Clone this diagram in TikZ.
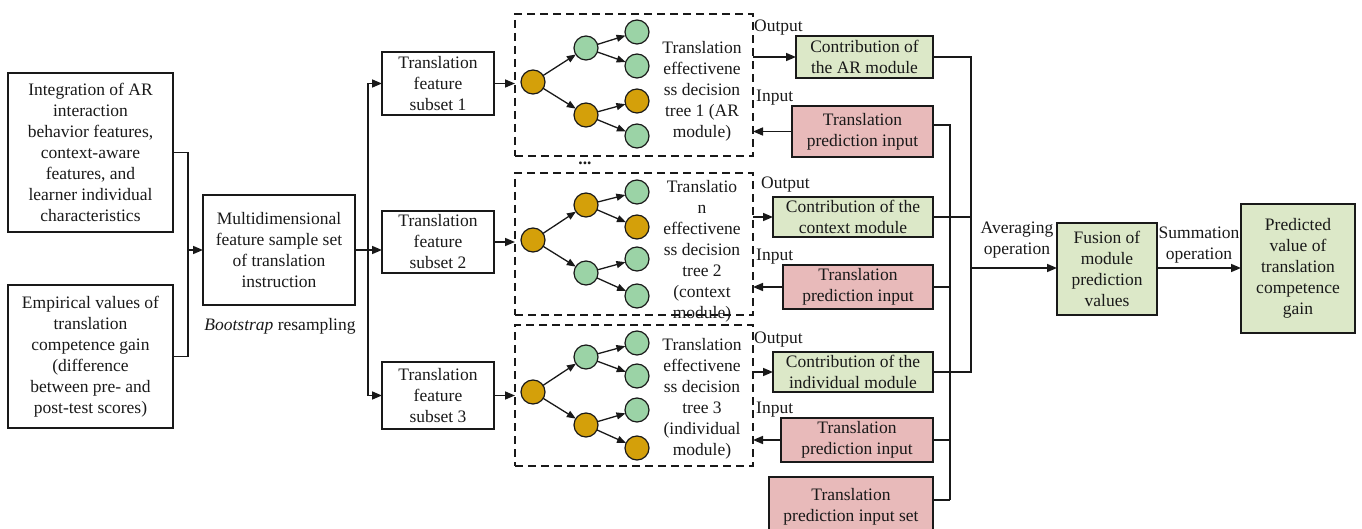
\documentclass[tikz,border=0pt]{standalone}
\usepackage{fontspec}
\setmainfont{Liberation Serif}
\usetikzlibrary{arrows.meta,calc}
\definecolor{gbox}{RGB}{220,232,200}
\definecolor{rbox}{RGB}{232,186,186}
\definecolor{cgreen}{RGB}{155,211,166}
\definecolor{corange}{RGB}{212,160,10}
\definecolor{ink}{RGB}{25,25,25}
\begin{document}
\begin{tikzpicture}[x=1pt,y=-1pt,
  every node/.style={font=\fontsize{17.5}{21}\selectfont, text=ink},
  box/.style={draw=ink, line width=1.8pt, align=center, inner sep=0pt, outer sep=0pt},
  gb/.style={box, fill=gbox},
  rb/.style={box, fill=rbox},
  dbox/.style={draw=ink, line width=1.8pt, dash pattern=on 8pt off 5pt, inner sep=0pt, outer sep=0pt},
  cg/.style={circle, draw=ink, line width=1.2pt, fill=cgreen, minimum size=24pt, inner sep=0pt, outer sep=0pt},
  co/.style={circle, draw=ink, line width=1.2pt, fill=corange, minimum size=24pt, inner sep=0pt, outer sep=0pt},
  arr/.style={draw=ink, line width=1.6pt, -{Triangle[length=10pt,width=8pt]}},
  tarr/.style={draw=ink, line width=1.3pt, -{Triangle[length=9pt,width=7pt]}},
  ln/.style={draw=ink, line width=1.6pt},
  lbl/.style={inner sep=0pt, anchor=west},
  ttext/.style={align=center, inner sep=0pt}
]
\useasboundingbox (0,0) rectangle (1362,529);

% left input boxes
\node[box, minimum width=165pt, minimum height=159pt] (in1) at (90.5,152.5)
  {Integration of AR\\interaction\\behavior features,\\context-aware\\features, and\\learner individual\\characteristics};
\node[box, minimum width=165pt, minimum height=143pt] (in2) at (90.5,356.5)
  {Empirical values of\\translation\\competence gain\\(difference\\between pre- and\\post-test scores)};
\node[box, minimum width=152pt, minimum height=110pt] (m) at (279,250)
  {Multidimensional\\feature sample set\\of translation\\instruction};
\node[inner sep=0pt] (boot) at (280,326) {\textit{Bootstrap} resampling};

\coordinate (jL) at (188,250);
\draw[ln] (in1.east) -| (jL);
\draw[ln] (in2.east) -| (jL);
\draw[arr] (jL) -- (m.west);

% subsets
\node[box, minimum width=112pt, minimum height=63pt] (s1) at (438,83.5) {Translation\\feature\\subset 1};
\node[box, minimum width=112pt, minimum height=62pt] (s2) at (438,242) {Translation\\feature\\subset 2};
\node[box, minimum width=112pt, minimum height=67pt] (s3) at (438,395.5) {Translation\\feature\\subset 3};

\coordinate (bus) at (368,250);
\draw[arr] (m.east) -- (m.east -| s2.west);
\draw[arr] (bus) |- (s1.west);
\draw[arr] (bus) |- (s3.west);

% dashed tree boxes
\node[dbox, minimum width=238pt, minimum height=142pt] (d1) at (634,85) {};
\node[dbox, minimum width=238pt, minimum height=142pt] (d2) at (634,244) {};
\node[dbox, minimum width=238pt, minimum height=141pt] (d3) at (634,395.5) {};

\draw[arr] (s1.east) -- (s1.east -| d1.west);
\draw[arr] (s2.east) -- (s2.east -| d2.west);
\draw[arr] (s3.east) -- (s3.east -| d3.west);

\node[inner sep=0pt] (dots) at (585,163) {\textbf{...}};

% tree 1
\node[co] (a0) at (533,82) {};
\node[cg] (a1) at (586,48) {};
\node[co] (a2) at (586,115) {};
\node[cg] (a3) at (637,32) {};
\node[cg] (a4) at (637,66) {};
\node[co] (a5) at (637,101) {};
\node[cg] (a6) at (637,136) {};
\draw[tarr] (a0) -- (a1); \draw[tarr] (a0) -- (a2);
\draw[tarr] (a1) -- (a3); \draw[tarr] (a1) -- (a4);
\draw[tarr] (a2) -- (a5); \draw[tarr] (a2) -- (a6);
\node[ttext] (t1) at (702,91.5) {Translation\\effectivene\\ss decision\\tree 1 (AR\\module)};

% tree 2
\node[co] (b0) at (533,240) {};
\node[co] (b1) at (586,205) {};
\node[cg] (b2) at (586,273) {};
\node[cg] (b3) at (637,192) {};
\node[co] (b4) at (637,227) {};
\node[cg] (b5) at (637,259) {};
\node[cg] (b6) at (637,296) {};
\draw[tarr] (b0) -- (b1); \draw[tarr] (b0) -- (b2);
\draw[tarr] (b1) -- (b3); \draw[tarr] (b1) -- (b4);
\draw[tarr] (b2) -- (b5); \draw[tarr] (b2) -- (b6);
\node[ttext] (t2) at (702,251.5) {Translatio\\n\\effectivene\\ss decision\\tree 2\\(context\\module)};

% tree 3
\node[co] (c0) at (533,392) {};
\node[cg] (c1) at (586,357) {};
\node[co] (c2) at (586,425) {};
\node[cg] (c3) at (637,343) {};
\node[cg] (c4) at (637,376) {};
\node[cg] (c5) at (637,410) {};
\node[co] (c6) at (637,448) {};
\draw[tarr] (c0) -- (c1); \draw[tarr] (c0) -- (c2);
\draw[tarr] (c1) -- (c3); \draw[tarr] (c1) -- (c4);
\draw[tarr] (c2) -- (c5); \draw[tarr] (c2) -- (c6);
\node[ttext] (t3) at (702,398.5) {Translation\\effectivene\\ss decision\\tree 3\\(individual\\module)};

% output / input boxes
\node[gb, minimum width=137pt, minimum height=42pt] (g1) at (864.5,57) {Contribution of\\the AR module};
\node[rb, minimum width=141pt, minimum height=51pt] (r1) at (862.5,131.5) {Translation\\prediction input};
\node[gb, minimum width=160pt, minimum height=40pt] (g2) at (853,217) {Contribution of the\\context module};
\node[rb, minimum width=150pt, minimum height=44pt] (r2) at (858,287) {Translation\\prediction input};
\node[gb, minimum width=160pt, minimum height=40pt] (g3) at (853,372) {Contribution of the\\individual module};
\node[rb, minimum width=152pt, minimum height=44pt] (r3) at (857,440) {Translation\\prediction input};
\node[rb, minimum width=164pt, minimum height=60pt] (r4) at (851,507) {Translation\\prediction input set};

\node[lbl] (o1) at (754,28) {Output};
\node[lbl] (i1) at (756,98) {Input};
\node[lbl] (o2) at (761,185) {Output};
\node[lbl] (i2) at (756,257) {Input};
\node[lbl] (o3) at (754,340) {Output};
\node[lbl] (i3) at (756,410) {Input};

\draw[arr] (d1.east |- g1.west) -- (g1.west);
\draw[arr] (d2.east |- g2.west) -- (g2.west);
\draw[arr] (d3.east |- g3.west) -- (g3.west);
\draw[arr] (r1.west) -- (r1.west -| d1.east);
\draw[arr] (r2.west) -- (r2.west -| d2.east);
\draw[arr] (r3.west) -- (r3.west -| d3.east);

% red bus
\coordinate (rtop) at (950,125);
\coordinate (rbot) at (950,500);
\draw[ln] ([yshift=6.5pt]r1.east) -- (rtop) -- (rbot);
\draw[ln] (r2.east) -- (r2.east -| rtop);
\draw[ln] (r3.east) -- (r3.east -| rtop);
\draw[ln] (r4.east |- rbot) -- (rbot);

% green bus
\coordinate (gtop) at (971,57);
\coordinate (gmid) at (971,268);
\draw[ln] (g1.east) -- (gtop) |- (g3.east);
\draw[ln] (g2.east) -- (g2.east -| gtop);

% fusion and prediction
\node[gb, minimum width=100pt, minimum height=92pt] (f) at (1107,269) {Fusion of\\module\\prediction\\values};
\node[gb, minimum width=114pt, minimum height=129pt] (p) at (1298,268.5) {Predicted\\value of\\translation\\competence\\gain};
\draw[arr] (gmid) -- (gmid -| f.west);
\node[align=center, inner sep=0pt] (avg) at (1017,240) {Averaging\\operation};
\draw[arr] (f.east |- gmid) -- (p.west |- gmid);
\node[align=center, inner sep=0pt] (sum) at (1199,245) {Summation\\operation};
\end{tikzpicture}
\end{document}
